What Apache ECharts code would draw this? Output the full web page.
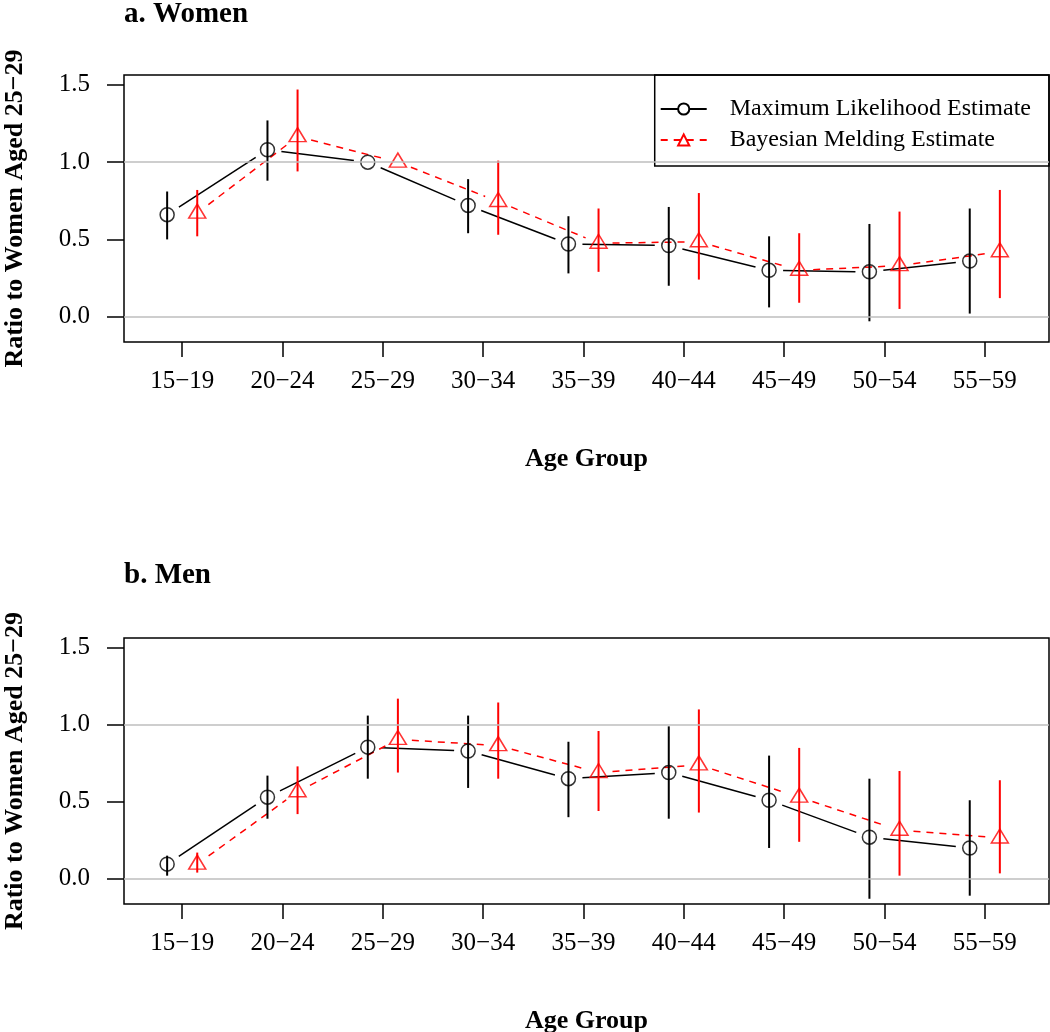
<!DOCTYPE html>
<html><head><meta charset="utf-8">
<script src="https://cdn.jsdelivr.net/npm/echarts@6/dist/echarts.min.js"></script>
<style>html,body{margin:0;padding:0;background:#fff}#c{width:1050px;height:1032px}</style>
</head><body><div id="c"></div>
<script>
// ---- data ----
const ageGroups = ['15\u221219','20\u221224','25\u221229','30\u221234','35\u221239','40\u221244','45\u221249','50\u221254','55\u221259'];
const yTicks = [0, 0.5, 1.0, 1.5];
const refLines = [0, 1];

const womenMLE   = [0.66, 1.08, 1.00, 0.72, 0.47, 0.46, 0.30, 0.29, 0.36];
const womenMLELo = [0.50, 0.88, null, 0.54, 0.28, 0.20, 0.06, -0.03, 0.02];
const womenMLEHi = [0.81, 1.27, null, 0.89, 0.65, 0.71, 0.52, 0.60, 0.70];
const womenBME   = [0.67, 1.165, 1.00, 0.745, 0.475, 0.485, 0.30, 0.33, 0.42];
const womenBMELo = [0.52, 0.94, null, 0.53, 0.29, 0.24, 0.09, 0.05, 0.12];
const womenBMEHi = [0.82, 1.47, null, 1.01, 0.70, 0.80, 0.54, 0.68, 0.82];

const menMLE   = [0.095, 0.53, 0.855, 0.83, 0.65, 0.69, 0.51, 0.27, 0.20];
const menMLELo = [0.02, 0.39, 0.65, 0.59, 0.40, 0.39, 0.20, -0.13, -0.11];
const menMLEHi = [0.15, 0.67, 1.06, 1.06, 0.89, 0.99, 0.80, 0.65, 0.51];
const menBME   = [0.095, 0.565, 0.905, 0.865, 0.69, 0.74, 0.53, 0.315, 0.265];
const menBMELo = [0.04, 0.42, 0.69, 0.65, 0.44, 0.43, 0.24, 0.02, 0.035];
const menBMEHi = [0.17, 0.73, 1.17, 1.145, 0.96, 1.10, 0.85, 0.70, 0.64];

const seriesNames = ['Maximum Likelihood Estimate', 'Bayesian Melding Estimate'];

// ---- chart ----
const FONT = "'Liberation Serif','Times New Roman',serif";
const idx = ageGroups.map((_, i) => i + 1);
const OFF = 0.15;

function pts(vals, off) { return vals.map((v, i) => [i + 1 + off, v]); }
function segs(vals, off) {
  const out = [];
  for (let i = 0; i < vals.length - 1; i++) out.push([i + 1 + off, vals[i], i + 2 + off, vals[i + 1]]);
  return out;
}
function bars(lo, hi, off) {
  const out = [];
  lo.forEach((l, i) => { if (l !== null && hi[i] !== null) out.push([i + 1 + off, l, hi[i]]); });
  return out;
}
function segRender(color, dash) {
  return function (params, api) {
    const a = api.coord([api.value(0), api.value(1)]);
    const b = api.coord([api.value(2), api.value(3)]);
    const dx = b[0] - a[0], dy = b[1] - a[1];
    const L = Math.hypot(dx, dy), g = 14;
    if (L <= 2 * g) return null;
    const ux = dx / L, uy = dy / L;
    return { type: 'line', shape: { x1: a[0] + ux * g, y1: a[1] + uy * g, x2: b[0] - ux * g, y2: b[1] - uy * g },
      style: { stroke: color, lineWidth: 1.5, lineDash: dash } };
  };
}
function barRender(color) {
  return function (params, api) {
    const a = api.coord([api.value(0), api.value(1)]);
    const b = api.coord([api.value(0), api.value(2)]);
    return { type: 'line', shape: { x1: a[0], y1: a[1], x2: b[0], y2: b[1] }, style: { stroke: color, lineWidth: 2 } };
  };
}

function panelSeries(g, mle, mleLo, mleHi, bme, bmeLo, bmeHi) {
  return [
    { type: 'custom', xAxisIndex: g, yAxisIndex: g, z: 1, renderItem: segRender('#000', null),
      encode: { x: [0, 2], y: [1, 3] }, data: segs(mle, -OFF), silent: true,
      markLine: { silent: true, symbol: ['none', 'none'], label: { show: false }, animation: false,
        lineStyle: { color: '#bebebe', width: 1.5, type: 'solid' }, data: refLines.map(v => ({ yAxis: v })) } },
    { type: 'custom', xAxisIndex: g, yAxisIndex: g, z: 2, renderItem: segRender('#ff0000', [7, 6]),
      encode: { x: [0, 2], y: [1, 3] }, data: segs(bme, OFF), silent: true },
    { type: 'custom', xAxisIndex: g, yAxisIndex: g, z: 3, renderItem: barRender('#000'),
      encode: { x: 0, y: [1, 2] }, data: bars(mleLo, mleHi, -OFF), silent: true },
    { type: 'custom', xAxisIndex: g, yAxisIndex: g, z: 3, renderItem: barRender('#ff0000'),
      encode: { x: 0, y: [1, 2] }, data: bars(bmeLo, bmeHi, OFF), silent: true },
    { type: 'scatter', name: 'mle' + g, xAxisIndex: g, yAxisIndex: g, z: 4, symbol: 'circle', symbolSize: 14,
      itemStyle: { color: 'rgba(0,0,0,0)', borderColor: '#000', borderWidth: 1.5 }, data: pts(mle, -OFF), silent: true },
    { type: 'scatter', name: 'bme' + g, xAxisIndex: g, yAxisIndex: g, z: 4, symbol: 'triangle', symbolSize: [17, 14],
      symbolOffset: [0, -2],
      itemStyle: { color: 'rgba(0,0,0,0)', borderColor: '#ff0000', borderWidth: 1.5 }, data: pts(bme, OFF), silent: true }
  ];
}

function xAxisCfg(g) {
  return { type: 'value', gridIndex: g, min: 0.42, max: 9.64, position: 'bottom',
    axisLine: { show: false, onZero: false }, splitLine: { show: false },
    axisTick: { show: true, customValues: idx, length: 15, lineStyle: { color: '#000', width: 1.5 } },
    axisLabel: { customValues: idx, formatter: v => ageGroups[Math.round(v) - 1], color: '#000',
      fontFamily: FONT, fontSize: 25, margin: 27 },
    name: 'Age Group', nameLocation: 'middle', nameGap: 104,
    nameTextStyle: { fontFamily: FONT, fontWeight: 'bold', fontSize: 26, color: '#000' } };
}
function yAxisCfg(g) {
  return { type: 'value', gridIndex: g, min: -0.164, max: 1.564, position: 'left',
    axisLine: { show: false, onZero: false }, splitLine: { show: false },
    axisTick: { show: true, customValues: yTicks, length: 17, lineStyle: { color: '#000', width: 1.5 } },
    axisLabel: { customValues: yTicks, formatter: v => v.toFixed(1), color: '#000',
      fontFamily: FONT, fontSize: 25, margin: 34 },
    name: 'Ratio to Women Aged 25\u221229', nameLocation: 'middle', nameGap: 96,
    nameTextStyle: { fontFamily: FONT, fontWeight: 'bold', fontSize: 26, color: '#000' } };
}

const option = {
  animation: false,
  backgroundColor: '#fff',
  textStyle: { fontFamily: FONT },
  title: [
    { text: 'a. Women', left: 124, top: 0, padding: 0, textStyle: { fontFamily: FONT, fontWeight: 'bold', fontSize: 29, color: '#000' } },
    { text: 'b. Men', left: 124, top: 561, padding: 0, textStyle: { fontFamily: FONT, fontWeight: 'bold', fontSize: 29, color: '#000' } }
  ],
  legend: {
    data: seriesNames, orient: 'vertical', right: 1, top: 75, padding: [22, 18, 14, 5],
    itemWidth: 46, itemHeight: 14, itemGap: 7, borderColor: '#000', borderWidth: 1.5, borderRadius: 0,
    selectedMode: false,
    formatter: n => '{t|' + n + '}',
    textStyle: { color: '#000', fontFamily: FONT, fontSize: 24,
      rich: { t: { padding: [0, 0, 0, 18], fontFamily: FONT, fontSize: 24, color: '#000' } } }
  },
  grid: [
    { left: 124, top: 75, width: 925, height: 267, show: true, borderColor: '#000', borderWidth: 1.5,
      backgroundColor: 'transparent', outerBoundsMode: 'none', containLabel: false },
    { left: 124, top: 638, width: 925, height: 266, show: true, borderColor: '#000', borderWidth: 1.5,
      backgroundColor: 'transparent', outerBoundsMode: 'none', containLabel: false }
  ],
  xAxis: [xAxisCfg(0), xAxisCfg(1)],
  yAxis: [yAxisCfg(0), yAxisCfg(1)],
  series: [
    { type: 'line', name: seriesNames[0], xAxisIndex: 0, yAxisIndex: 0, data: [], symbol: 'circle', symbolSize: 14,
      itemStyle: { color: '#fff', borderColor: '#000', borderWidth: 1.5 }, lineStyle: { color: '#000', width: 1.5 } },
    { type: 'line', name: seriesNames[1], xAxisIndex: 0, yAxisIndex: 0, data: [], symbol: 'triangle', symbolSize: [17, 14],
      itemStyle: { color: '#fff', borderColor: '#ff0000', borderWidth: 1.5 }, lineStyle: { color: '#ff0000', width: 1.5, type: [7, 6] } },
    ...panelSeries(0, womenMLE, womenMLELo, womenMLEHi, womenBME, womenBMELo, womenBMEHi),
    ...panelSeries(1, menMLE, menMLELo, menMLEHi, menBME, menBMELo, menBMEHi)
  ]
};
const chart = echarts.init(document.getElementById('c'), null, { renderer: 'canvas' });
chart.setOption(option);
</script></body></html>
